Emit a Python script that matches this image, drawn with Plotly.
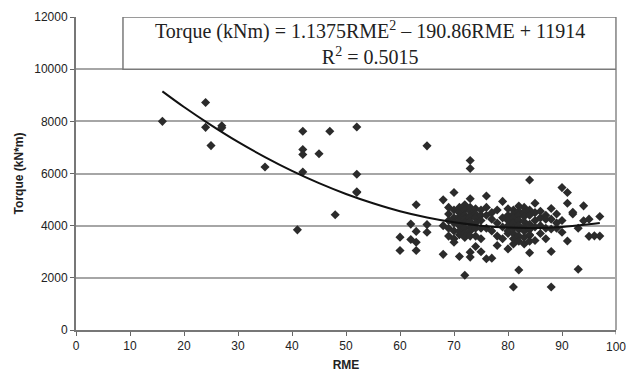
import plotly.graph_objects as go

# ---- scatter data (RME, Torque kN*m) ----
rme = [
    16, 24, 24, 25, 27, 27, 35, 41, 42, 42, 42, 42, 45, 47, 48, 52, 52, 52, 52,
    60, 60, 62, 62, 63, 63, 63, 63, 65, 65, 65, 68, 68, 68, 69,
    70, 70, 71, 72, 73, 73, 73, 73, 73, 74, 76, 76, 77, 78, 79, 80,
    81, 81, 82, 84, 84, 84, 85, 88, 88, 88, 90, 91, 91, 91, 92, 93, 94, 94, 95, 96, 97, 97,
    69, 69, 69, 69, 70, 70, 70, 70, 70, 71, 71, 71, 71, 71, 71, 71,
    72, 72, 72, 72, 72, 72, 72, 72, 73, 73, 73, 73, 73, 73, 73, 73,
    74, 74, 74, 74, 74, 74, 75, 75, 75, 75, 75, 75,
    76, 76, 76, 77, 77, 77, 78, 78, 78, 79, 79, 79, 80, 80,
    80, 80, 80, 80, 81, 81, 81, 81, 81, 81, 81, 82, 82, 82, 82, 82, 82, 82, 82,
    83, 83, 83, 83, 83, 83, 83, 83, 84, 84, 84, 84, 84, 84, 85, 85, 85, 85,
    86, 86, 86, 86, 87, 87, 87, 87, 88, 88, 89, 89, 89, 90, 90, 92, 93, 95,
]
torque = [
    8000, 8720, 7770, 7070, 7830, 7750, 6250, 3840, 7620, 6920, 6730, 6060, 6760, 7620, 4420, 7780, 5970, 5300, 5270,
    3560, 3050, 4060, 3470, 4800, 3780, 3365, 3050, 7060, 4040, 3750, 4990, 4000, 2900, 4700,
    5270, 3365, 2820, 2100, 6500, 6190, 5030, 2985, 2795, 3200, 5140, 2730, 2755, 3240, 4930, 3110,
    1650, 3300, 2300, 5750, 2960, 3620, 4860, 3010, 1650, 4250, 5460, 5270, 4860, 3415, 4450, 2330, 4760, 4190, 3590, 3610, 4350, 3600,
    4450, 4200, 3900, 3600, 4600, 4300, 4100, 3800, 3500, 4700, 4500, 4350, 4200, 4000, 3800, 3650,
    4800, 4600, 4400, 4250, 4100, 3900, 3700, 3550, 4700, 4550, 4400, 4300, 4150, 3950, 3800, 3600,
    4650, 4450, 4300, 4100, 3900, 3600, 4600, 4400, 4200, 3900, 3500, 3000,
    4700, 4400, 3900, 4500, 4250, 3800, 4600, 4100, 3600, 4300, 3950, 3500, 4400, 3800,
    4650, 4200, 4000, 3700, 4600, 4450, 4300, 4100, 3900, 3700, 3500, 4750, 4550, 4400, 4200, 4000, 3850, 3600, 3400,
    4700, 4500, 4350, 4150, 3950, 3800, 3550, 3300, 4600, 4400, 4050, 3850, 3650, 3400, 4500, 4200, 3950, 3430,
    4550, 4300, 4000, 3700, 4400, 4250, 3900, 3500, 4660, 3870, 4450, 4100, 3900, 4200, 3750, 4510, 3900, 4250,
]

# ---- trendline points ----
trend_rme = [16, 20, 25, 30, 35, 40, 45, 50, 55, 60, 65, 70, 75, 80, 85, 90, 95, 97]
trend_torque = [9150, 8550, 7855, 7210, 6630, 6100, 5630, 5215, 4860, 4555, 4315, 4130, 4000, 3925, 3910, 3950, 4050, 4100]

x_ticks = [0, 10, 20, 30, 40, 50, 60, 70, 80, 90, 100]
y_ticks = [0, 2000, 4000, 6000, 8000, 10000, 12000]
y_tick_labels = ["0", "2000", "4000", "6000", "8000", "10000", "12000"]

eq_line1 = "Torque (kNm) = 1.1375RME<sup>2</sup> – 190.86RME + 11914"
eq_line2 = "R<sup>2</sup> = 0.5015"

fig = go.Figure()
fig.add_trace(go.Scatter(
    x=rme, y=torque, mode="markers",
    marker=dict(symbol="diamond", size=7, color="#2b2b2b"),
    showlegend=False, hoverinfo="x+y",
))
fig.add_trace(go.Scatter(
    x=trend_rme, y=trend_torque, mode="lines",
    line=dict(color="#111111", width=2, shape="spline"),
    showlegend=False,
))

grid_col = "#a6a6a6"
fig.update_layout(
    width=626, height=383,
    margin=dict(l=76, r=10, t=15, b=53),
    paper_bgcolor="white", plot_bgcolor="white",
    font=dict(family="Liberation Sans, Arial, sans-serif", size=12, color="#222"),
    xaxis=dict(
        range=[0, 100], tickvals=x_ticks[:-1], ticktext=[str(v) for v in x_ticks[:-1]],
        ticks="outside", ticklen=4, tickcolor="#666",
        showline=True, linecolor="#777", linewidth=2, showgrid=False, zeroline=False,
        title=dict(text="<b>RME</b>", font=dict(size=12), standoff=8),
        tickfont=dict(size=12),
    ),
    yaxis=dict(
        range=[0, 12000], tickvals=y_ticks, ticktext=y_tick_labels,
        ticks="outside", ticklen=4, tickcolor="#666",
        showline=True, linecolor="#777", linewidth=2, showgrid=True, gridcolor=grid_col,
        gridwidth=1.5, zeroline=False,
        title=dict(text="<b>Torque (kN*m)</b>", font=dict(size=12), standoff=8),
        tickfont=dict(size=12),
    ),
)

# last x tick (100) sits at the very edge; draw its tick mark and label explicitly
fig.add_shape(type="line", xref="x", yref="paper", x0=x_ticks[-1], x1=x_ticks[-1], y0=0, y1=-0.014,
              line=dict(color="#666", width=1))
fig.add_annotation(x=x_ticks[-1], y=0, xref="x", yref="paper", yanchor="top", xanchor="center",
                   yshift=-8, text=str(x_ticks[-1]), showarrow=False,
                   font=dict(size=12, color="#222"))

# right border of plot area
fig.add_shape(type="line", xref="paper", yref="paper", x0=1, x1=1, y0=0, y1=1,
              line=dict(color=grid_col, width=2))
# equation box
fig.add_shape(type="rect", xref="x", yref="y", x0=8.7, x1=100, y0=10000, y1=12000,
              line=dict(color="#7a7a7a", width=1.5), fillcolor="white", layer="above")
fig.add_annotation(x=54.5, y=11000, xref="x", yref="y",
                   text=eq_line1 + "<br>" + eq_line2, showarrow=False,
                   font=dict(family="Liberation Serif, Times New Roman, serif", size=20, color="#222"),
                   align="center")

fig.write_html("out.html")
